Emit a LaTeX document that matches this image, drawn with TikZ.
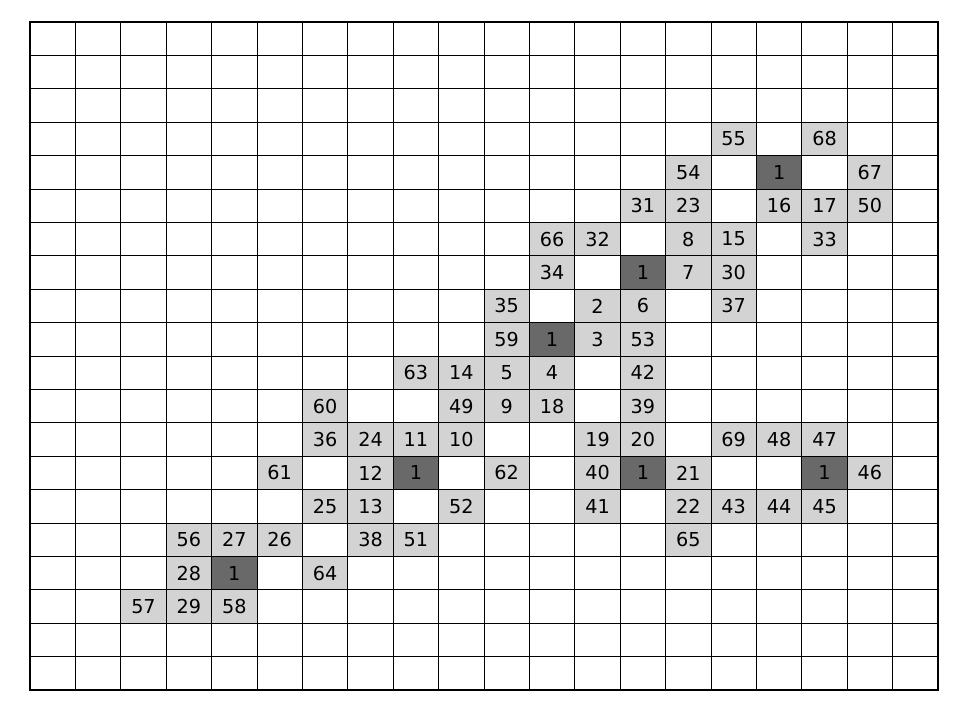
\documentclass[tikz,border=0pt]{standalone}
\usepackage{fontspec}
\setmainfont{DejaVu Sans}
\definecolor{lightc}{HTML}{D3D3D3}
\definecolor{darkc}{HTML}{696969}
\begin{document}
\begin{tikzpicture}[x=0.75pt,y=-0.75pt,
  cellbox/.style={minimum width=45.4*0.75pt,minimum height=33.4*0.75pt,inner sep=0pt,draw=black,line width=0.6pt,font=\fontsize{14.4}{17}\selectfont},
  lightcell/.style={cellbox,fill=lightc},
  darkcell/.style={cellbox,fill=darkc}]
\useasboundingbox (0,0) rectangle (960,720);
% grid
\foreach \i in {0,...,20} {
  \draw[line width=0.6pt] ({30+45.4*\i},22) -- ({30+45.4*\i},690);
  \draw[line width=0.6pt] (30,{22+33.4*\i}) -- (938,{22+33.4*\i});
}
% light cells: col/row/label
\foreach \c/\r/\t in {15/3/55,17/3/68,
 14/4/54,18/4/67,
 13/5/31,14/5/23,16/5/16,17/5/17,18/5/50,
 11/6/66,12/6/32,14/6/8,15/6/15,17/6/33,
 11/7/34,14/7/7,15/7/30,
 10/8/35,12/8/2,13/8/6,15/8/37,
 10/9/59,12/9/3,13/9/53,
 8/10/63,9/10/14,10/10/5,11/10/4,13/10/42,
 6/11/60,9/11/49,10/11/9,11/11/18,13/11/39,
 6/12/36,7/12/24,8/12/11,9/12/10,12/12/19,13/12/20,15/12/69,16/12/48,17/12/47,
 5/13/61,7/13/12,10/13/62,12/13/40,14/13/21,18/13/46,
 6/14/25,7/14/13,9/14/52,12/14/41,14/14/22,15/14/43,16/14/44,17/14/45,
 3/15/56,4/15/27,5/15/26,7/15/38,8/15/51,14/15/65,
 3/16/28,6/16/64,
 2/17/57,3/17/29,4/17/58} {
  \node[lightcell] (c-\c-\r) at ({30+45.4*(\c+0.5)},{22+33.4*(\r+0.5)}) {\t};
}
% dark cells
\foreach \c/\r in {16/4,13/7,11/9,8/13,13/13,17/13,4/16} {
  \node[darkcell] (d-\c-\r) at ({30+45.4*(\c+0.5)},{22+33.4*(\r+0.5)}) {1};
}
\draw[line width=1.2pt] (30,22) rectangle (938,690);
\end{tikzpicture}
\end{document}
